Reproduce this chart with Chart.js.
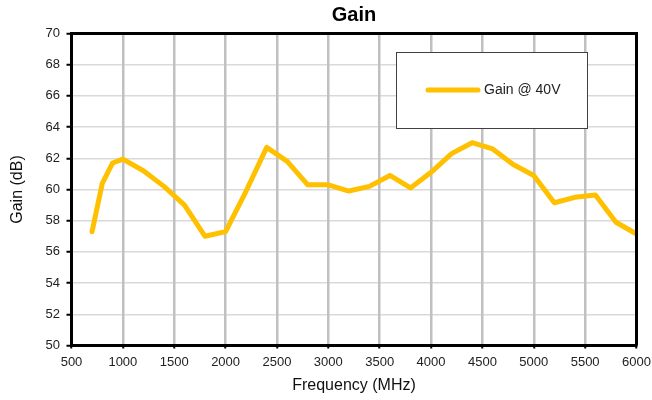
<!DOCTYPE html>
<html>
<head>
<meta charset="utf-8">
<script src="https://cdn.jsdelivr.net/npm/chart.js@4"></script>
<style>
  html, body { margin: 0; padding: 0; background: #fff; }
</style>
</head>
<body>
<canvas id="chart" width="652" height="400"></canvas>
<script>
const freqs = [700, 800, 900, 1000, 1200, 1400, 1600, 1800, 2000, 2200, 2400, 2600, 2800, 3000, 3200,
  3400, 3600, 3800, 4000, 4200, 4400, 4600, 4800, 5000, 5200, 5400, 5600, 5800, 6000];
const gains = [57.3, 60.4, 61.7, 61.95, 61.2, 60.2, 59.0, 57.0, 57.3, 59.9, 62.7, 61.8, 60.3, 60.3, 59.9,
  60.2, 60.9, 60.1, 61.1, 62.3, 63.0, 62.6, 61.6, 60.9, 59.15, 59.5, 59.65, 57.9, 57.15];
const seriesLabel = 'Gain @ 40V';
const yTicks = { min: 50, max: 70, step: 2 };
const xTicks = { min: 500, max: 6000, step: 500 };

const font = 'Liberation Sans, Arial, sans-serif';
const lineColor = '#FFC000';

const points = freqs.map((f, i) => ({ x: f, y: gains[i] }));

// frame on top/right plus the boxed legend inside the plot
const frameAndLegend = {
  id: 'frameAndLegend',
  afterDatasetsDraw(chart) {
    const { ctx, chartArea: a } = chart;
    ctx.save();
    ctx.strokeStyle = '#000';
    ctx.lineWidth = 3;
    ctx.beginPath();
    ctx.moveTo(a.left, a.top);
    ctx.lineTo(a.right, a.top);
    ctx.lineTo(a.right, a.bottom);
    ctx.stroke();

    // legend box
    const bx = 396, by = 52, bw = 191, bh = 76;
    ctx.fillStyle = '#fff';
    ctx.fillRect(bx, by, bw, bh);
    ctx.strokeStyle = '#404040';
    ctx.lineWidth = 1;
    ctx.strokeRect(bx + 0.5, by + 0.5, bw, bh);
    const ds = chart.data.datasets[0];
    ctx.strokeStyle = ds.borderColor;
    ctx.lineWidth = 5;
    ctx.lineCap = 'round';
    ctx.beginPath();
    ctx.moveTo(428, 90);
    ctx.lineTo(478, 90);
    ctx.stroke();
    ctx.fillStyle = '#222';
    ctx.font = '14px ' + font;
    ctx.textBaseline = 'middle';
    ctx.textAlign = 'left';
    ctx.fillText(ds.label, 484, 90);
    ctx.restore();
  }
};

new Chart(document.getElementById('chart'), {
  type: 'line',
  data: {
    datasets: [{
      label: seriesLabel,
      data: points,
      borderColor: lineColor,
      backgroundColor: lineColor,
      borderWidth: 5,
      pointRadius: 0,
      tension: 0,
      borderCapStyle: 'round',
      borderJoinStyle: 'round',
      fill: false
    }]
  },
  options: {
    responsive: false,
    animation: false,
    devicePixelRatio: 1,
    layout: { padding: { left: 0, right: 15.5, top: 0, bottom: 0 } },
    plugins: {
      legend: { display: false },
      tooltip: { enabled: false },
      title: {
        display: true,
        fullSize: false,
        text: 'Gain',
        color: '#000',
        font: { family: font, size: 20, weight: 'bold', lineHeight: 1.2 },
        padding: { top: 3, bottom: 6.5 }
      }
    },
    scales: {
      x: {
        type: 'linear',
        min: xTicks.min,
        max: xTicks.max,
        afterFit: s => {
          s.height = 54.5;
          s.paddingLeft = 0;
          s.paddingRight = 0;
        },
        ticks: {
          stepSize: xTicks.step,
          callback: v => String(v),
          color: '#222',
          font: { family: font, size: 13 },
          padding: 6,
          maxRotation: 0
        },
        grid: {
          color: '#c0c0c0',
          lineWidth: 2.5,
          tickColor: '#000',
          tickLength: 3,
          tickWidth: 2,
          z: -0.5
        },
        border: { color: '#000', width: 3 },
        title: {
          display: true,
          text: 'Frequency (MHz)',
          color: '#111',
          font: { family: font, size: 16, lineHeight: 1.2 },
          padding: { top: 0, bottom: 4.5 }
        }
      },
      y: {
        min: yTicks.min,
        max: yTicks.max,
        afterFit: s => { s.width = 71.5; },
        ticks: {
          stepSize: yTicks.step,
          color: '#222',
          font: { family: font, size: 13 },
          padding: 6.5
        },
        grid: {
          color: '#d9d9d9',
          lineWidth: 1.5,
          tickColor: '#000',
          tickLength: 5,
          tickWidth: 2
        },
        border: { color: '#000', width: 3 },
        title: {
          display: true,
          text: 'Gain (dB)',
          color: '#111',
          font: { family: font, size: 16, lineHeight: 1.2 },
          padding: { top: 7.5, bottom: 0 }
        }
      }
    }
  },
  plugins: [frameAndLegend]
});
</script>
</body>
</html>
